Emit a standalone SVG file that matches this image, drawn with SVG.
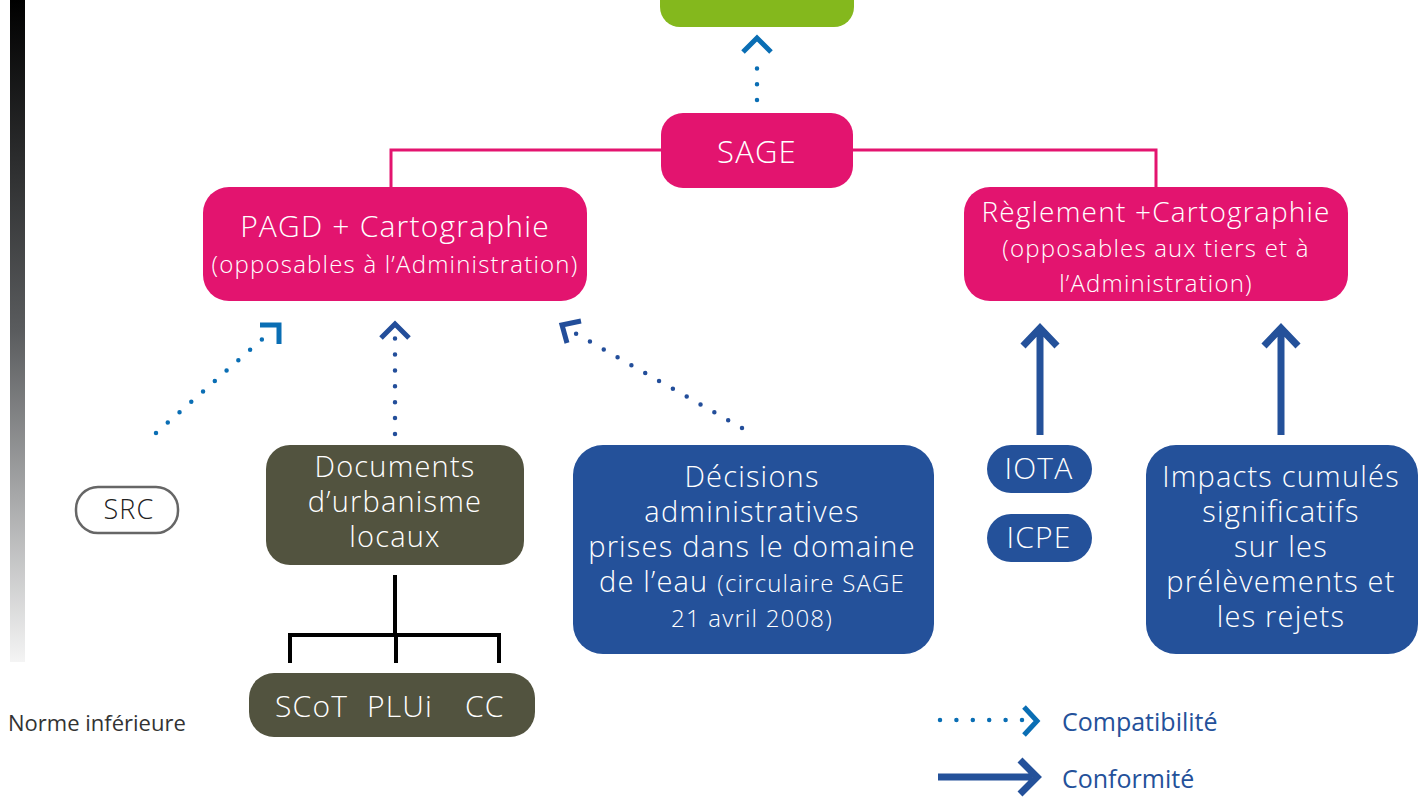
<svg xmlns="http://www.w3.org/2000/svg" width="1420" height="797" viewBox="0 0 1420 797">
<defs>
<linearGradient id="gbar" x1="0" y1="0" x2="0" y2="1">
<stop offset="0" stop-color="#000"/>
<stop offset="0.5" stop-color="#5a5c5e"/>
<stop offset="1" stop-color="#f4f4f4"/>
</linearGradient>
</defs>
<style>
.t{font-family:"Open Sans","Noto Sans","Liberation Sans",sans-serif;font-weight:300;fill:#fff;text-anchor:middle;letter-spacing:1.2px}
.pink{fill:#e3146f}
.olive{fill:#52533f}
.navy{fill:#24519a}
.dotA{fill:none;stroke:#0a6eb4;stroke-width:4.5;stroke-linecap:round;stroke-dasharray:0 15.7}
.dotB{fill:none;stroke:#234e9a;stroke-width:4.5;stroke-linecap:round;stroke-dasharray:0 15.9}
.chevA{fill:none;stroke:#0a6eb4;stroke-width:5}
.chevB{fill:none;stroke:#234e9a;stroke-width:5}
.solid{fill:none;stroke:#24519a;stroke-width:7}
.leg{font-family:"Open Sans","Noto Sans",sans-serif;font-size:25px;fill:#24519a}
</style>
<rect x="10" y="0" width="15" height="662" fill="url(#gbar)"/>
<g id="connectors">
<path d="M661 150 H391 V187 M853 150 H1156 V187" fill="none" stroke="#e3146f" stroke-width="3"/>
<path d="M395 575 V635 M290 663 V635 H499 V663 M396 635 V663" fill="none" stroke="#000" stroke-width="4"/>
<path class="dotA" d="M757 100 V54"/>
<path class="chevA" d="M743 52 L757 38 L771 52"/>
<path class="dotA" d="M156 433 L268 334"/>
<path class="chevA" d="M260 325 H279 V344"/>
<path class="dotB" d="M395 434 V338"/>
<path class="chevB" d="M381 338 L395 324 L409 338"/>
<path class="dotB" d="M742 428 L573 332"/>
<path class="chevB" d="M581 321 L562 325 L567 343"/>
<path class="solid" d="M1040 435 V327 M1023 346 L1040 328 L1057 346"/>
<path class="solid" d="M1281 435 V327 M1264 346 L1281 328 L1298 346"/>
</g>
<g id="top">
<path d="M660 0 H854 V7 A20 20 0 0 1 834 27 H680 A20 20 0 0 1 660 7 Z" fill="#84b81d"/>
</g>
<g id="sage">
<rect class="pink" x="661" y="113" width="192" height="75" rx="22"/>
<text class="t" x="757" y="163" font-size="31">SAGE</text>
</g>
<g id="pagd">
<rect class="pink" x="203" y="187" width="384" height="114" rx="26"/>
<text class="t" x="395" y="237" font-size="30">PAGD + Cartographie</text>
<text class="t" x="395" y="273" font-size="24">(opposables à l’Administration)</text>
</g>
<g id="reglement">
<rect class="pink" x="964" y="187" width="384" height="114" rx="26"/>
<text class="t" x="1156" y="222" font-size="28">Règlement +Cartographie</text>
<text class="t" x="1156" y="257" font-size="24">(opposables aux tiers et à</text>
<text class="t" x="1156" y="292" font-size="24">l’Administration)</text>
</g>
<g id="src">
<rect x="76" y="487" width="102" height="46" rx="22" fill="#fff" stroke="#666" stroke-width="2.5"/>
<text class="t" x="129" y="519" font-size="27" style="fill:#222">SRC</text>
</g>
<g id="documents">
<rect class="olive" x="266" y="445" width="258" height="120" rx="24"/>
<text class="t" x="395" y="477" font-size="29">Documents</text>
<text class="t" x="395" y="512" font-size="29">d’urbanisme</text>
<text class="t" x="395" y="547" font-size="29">locaux</text>
</g>
<g id="scot">
<rect class="olive" x="249" y="673" width="286" height="64" rx="25"/>
<text class="t" x="275" y="717" font-size="30" style="text-anchor:start">SCoT</text>
<text class="t" x="367" y="717" font-size="30" style="text-anchor:start">PLUi</text>
<text class="t" x="465" y="717" font-size="30" style="text-anchor:start">CC</text>
</g>
<g id="decisions">
<rect class="navy" x="573" y="445" width="361" height="209" rx="30"/>
<text class="t" x="752" y="487" font-size="29">Décisions</text>
<text class="t" x="752" y="522" font-size="29">administratives</text>
<text class="t" x="752" y="557" font-size="29">prises dans le domaine</text>
<text class="t" x="752" y="592" font-size="29">de l’eau <tspan font-size="24">(circulaire SAGE</tspan></text>
<text class="t" x="752" y="627" font-size="24">21 avril 2008)</text>
</g>
<g id="iota">
<rect class="navy" x="987" y="445" width="105" height="48" rx="24"/>
<text class="t" x="1039" y="479" font-size="30">IOTA</text>
</g>
<g id="icpe">
<rect class="navy" x="987" y="514" width="105" height="48" rx="24"/>
<text class="t" x="1039" y="548" font-size="30">ICPE</text>
</g>
<g id="impacts">
<rect class="navy" x="1146" y="445" width="272" height="209" rx="30"/>
<text class="t" x="1281" y="487" font-size="29">Impacts cumulés</text>
<text class="t" x="1281" y="522" font-size="29">significatifs</text>
<text class="t" x="1281" y="557" font-size="29">sur les</text>
<text class="t" x="1281" y="592" font-size="29">prélèvements et</text>
<text class="t" x="1281" y="627" font-size="29">les rejets</text>
</g>
<g id="legend">
<path class="dotA" d="M940 720 H1022" style="stroke-dasharray:0 16.4"/>
<path class="chevA" d="M1024 707 L1037 721 L1024 735"/>
<text class="leg" x="1062" y="731">Compatibilité</text>
<path class="solid" d="M938 777 H1032 M1020 760 L1037 777 L1020 794"/>
<text class="leg" x="1062" y="788">Conformité</text>
<text x="8" y="731" font-family="'Open Sans','Noto Sans',sans-serif" font-size="22" fill="#333">Norme inférieure</text>
</g>
</svg>
